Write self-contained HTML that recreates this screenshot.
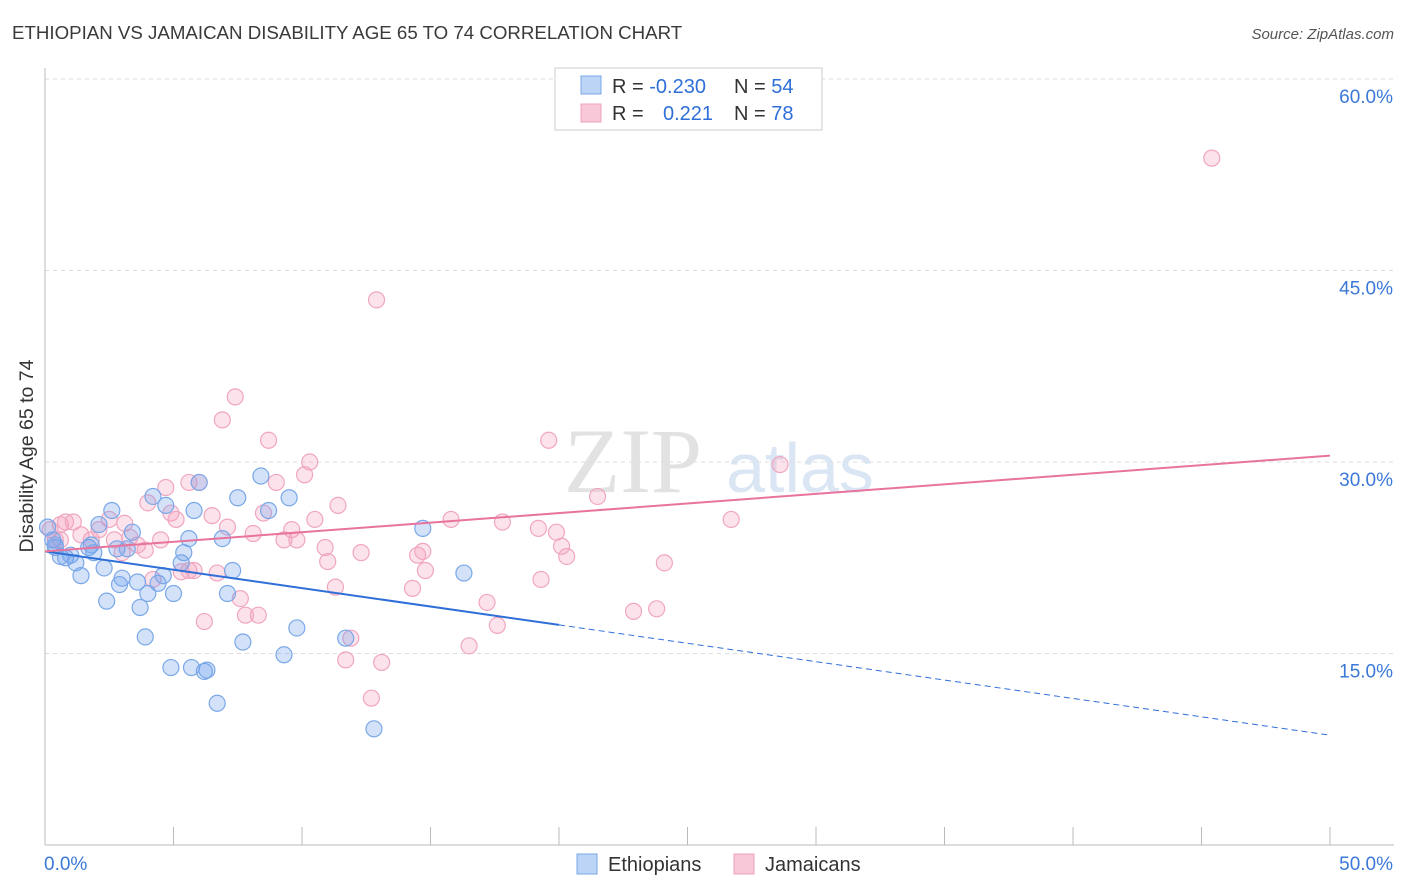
<!DOCTYPE html>
<html><head><meta charset="utf-8"><style>
body{margin:0;background:#fff;font-family:"Liberation Sans",sans-serif;}
#wrap{position:relative;width:1406px;height:892px;overflow:hidden;}
</style></head><body>
<div id="wrap">
<svg id="svg" width="1406" height="892" xmlns="http://www.w3.org/2000/svg">
<text x="12" y="39" font-size="18.7" fill="#3a3a3a">ETHIOPIAN VS JAMAICAN DISABILITY AGE 65 TO 74 CORRELATION CHART</text>
<text x="1394" y="39" font-size="15" fill="#555" font-style="italic" text-anchor="end">Source: ZipAtlas.com</text>
<text x="633" y="492" font-size="92" fill="#e2e2e2" font-family="Liberation Serif" text-anchor="middle">ZIP</text>
<text x="800" y="492" font-size="70" fill="#dbe6f5" text-anchor="middle">atlas</text>
<g id="grid"></g><g id="axes"></g><g id="pts"></g><g id="trend"></g>
<text transform="translate(33,456) rotate(-90)" font-size="19.5" fill="#333" text-anchor="middle">Disability Age 65 to 74</text>
<g>
<rect x="555" y="68" width="267" height="62" fill="#fff" stroke="#ccc"/>
<rect x="581" y="76" width="20" height="18" fill="#bcd4f6" stroke="#7aa8e8"/>
<rect x="581" y="104" width="20" height="18" fill="#f9c8d8" stroke="#f0a0bc"/>
<text x="612" y="93" font-size="20" fill="#333">R = <tspan fill="#2f6fd8">-0.230</tspan><tspan x="734">N = </tspan><tspan fill="#2f6fd8">54</tspan></text>
<text x="612" y="120" font-size="20" fill="#333">R = <tspan x="663" fill="#2f6fd8">0.221</tspan><tspan x="734">N = </tspan><tspan fill="#2f6fd8">78</tspan></text>
</g>
<g>
<rect x="577" y="854" width="20" height="20" fill="#bcd4f6" stroke="#7aa8e8"/>
<text x="608" y="871" font-size="20" fill="#333">Ethiopians</text>
<rect x="734" y="854" width="20" height="20" fill="#f9c8d8" stroke="#f0a0bc"/>
<text x="765" y="871" font-size="20" fill="#333">Jamaicans</text>
</g>
</svg>
</div>
<script>
const yTicks=[15,30,45,60];
const yTickLabels=["15.0%","30.0%","45.0%","60.0%"];
const xTicks=[0,5,10,15,20,25,30,35,40,45,50];
const xTickLabels=["0.0%","50.0%"];
const blueX=[0.1,0.3,0.4,0.6,0.8,1.0,1.2,1.4,1.7,1.8,2.1,2.3,2.4,2.6,2.8,2.9,3.0,3.2,3.4,3.6,3.7,3.9,4.0,4.2,4.4,4.6,4.7,4.9,5.0,5.3,5.4,5.6,5.7,5.8,6.0,6.2,6.3,6.7,6.9,7.1,7.3,7.5,7.7,8.4,8.7,9.3,9.5,9.8,11.7,12.8,14.7,16.3,0.4,1.9];
const blueY=[24.9,23.9,23.3,22.6,22.5,22.7,22.1,21.1,23.3,23.5,25.1,21.7,19.1,26.2,23.2,20.4,20.9,23.2,24.5,20.6,18.6,16.3,19.7,27.3,20.5,21.1,26.6,13.9,19.7,22.1,22.9,24.0,13.9,26.2,28.4,13.6,13.7,11.1,24.0,19.7,21.5,27.2,15.9,28.9,26.2,14.9,27.2,17.0,16.2,9.1,24.8,21.3,23.5,22.9];
const pinkX=[0.2,0.4,0.6,0.8,1.1,1.4,1.8,2.1,2.5,2.7,3.0,3.1,3.3,3.6,3.9,4.0,4.2,4.5,4.7,4.9,5.1,5.3,5.6,5.8,6.0,6.2,6.5,6.7,6.9,7.1,7.4,7.6,7.8,8.1,8.3,8.5,8.7,9.0,9.3,9.6,9.8,10.1,10.3,10.5,10.9,11.0,11.3,11.4,11.7,11.9,12.3,12.7,12.9,13.1,14.3,14.5,14.7,14.8,15.8,16.5,17.2,17.6,17.8,19.2,19.3,19.6,19.9,20.1,20.3,21.5,22.9,23.8,24.1,26.7,28.6,45.4,5.6,0.6];
const pinkY=[24.7,23.9,25.1,25.3,25.3,24.3,23.9,24.7,25.5,23.9,22.9,25.2,24.1,23.5,23.1,26.8,20.8,23.9,28.0,26.0,25.5,21.4,21.5,21.5,28.4,17.5,25.8,21.3,33.3,24.9,35.1,19.3,18.0,24.4,18.0,26.0,31.7,28.4,23.9,24.7,23.9,29.0,30.0,25.5,23.3,22.2,20.2,26.6,14.5,16.2,22.9,11.5,42.7,14.3,20.1,22.7,23.0,21.5,25.5,15.6,19.0,17.2,25.3,24.8,20.8,31.7,24.5,23.4,22.6,27.3,18.3,18.5,22.1,25.5,29.8,53.8,28.4,23.9];
const blueTrend=[23.0,8.6];
const pinkTrend=[23.0,30.5];
const blueSolidEnd=20;

const NS="http://www.w3.org/2000/svg";
const sx=v=>45+v*25.7;
const sy=v=>845-v*12.767;
function mk(tag,attrs,parent){const e=document.createElementNS(NS,tag);for(const k in attrs)e.setAttribute(k,attrs[k]);parent.appendChild(e);return e;}
const grid=document.getElementById('grid'),axes=document.getElementById('axes'),pts=document.getElementById('pts'),trend=document.getElementById('trend');
yTicks.forEach((t,i)=>{
 const l=mk('line',{x1:45,x2:1394,y1:sy(t),y2:sy(t),stroke:'#ddd','stroke-dasharray':'4,4'},grid);
 
 
 const tx=mk('text',{x:1393,y:sy(t)+24,'font-size':19,fill:'#3b78d8','text-anchor':'end'},axes);
 tx.textContent=yTickLabels[i];
 
 
});
const ax=mk('line',{x1:45,x2:1394,y1:845,y2:845,stroke:'#bbb'},axes);


const ay=mk('line',{x1:45,x2:45,y1:68,y2:845,stroke:'#bbb'},axes);


xTicks.forEach(t=>{
 const l=mk('line',{x1:sx(t),x2:sx(t),y1:827,y2:845,stroke:'#bbb'},axes);
 
 
});
const xl0=mk('text',{x:44,y:870,'font-size':19,fill:'#3b78d8'},axes);
xl0.textContent=xTickLabels[0];


const xl1=mk('text',{x:1393,y:870,'font-size':19,fill:'#3b78d8','text-anchor':'end'},axes);
xl1.textContent=xTickLabels[1];


function drawPts(X,Y,fill,stroke,name){
 X.forEach((x,i)=>{
  const c=mk('circle',{cx:sx(x),cy:sy(Y[i]),r:8,fill:fill,stroke:stroke,'stroke-width':1.2},pts);
  
  
 });
}
drawPts(pinkX,pinkY,'rgba(244,160,190,0.3)','#f0a6c0','jamaican-point');
drawPts(blueX,blueY,'rgba(110,160,235,0.3)','#7aa8e8','ethiopian-point');
const bAt=x=>blueTrend[0]+(blueTrend[1]-blueTrend[0])*x/50;
const bl=mk('line',{x1:sx(0),y1:sy(bAt(0)),x2:sx(blueSolidEnd),y2:sy(bAt(blueSolidEnd)),stroke:'#2f6fd8','stroke-width':2},trend);


const bd=mk('line',{x1:sx(blueSolidEnd),y1:sy(bAt(blueSolidEnd)),x2:sx(50),y2:sy(bAt(50)),stroke:'#2f6fd8','stroke-width':1,'stroke-dasharray':'6,4'},trend);


const pl=mk('line',{x1:sx(0),y1:sy(pinkTrend[0]),x2:sx(50),y2:sy(pinkTrend[1]),stroke:'#e8739d','stroke-width':2},trend);


</script>
</body></html>
